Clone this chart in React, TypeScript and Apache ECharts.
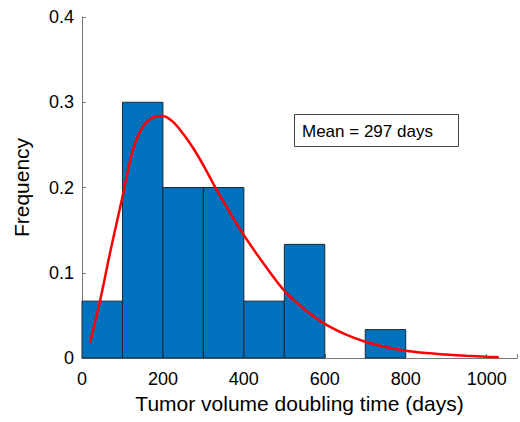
import React, { useEffect, useRef } from "react";
import * as echarts from "echarts";

// Histogram bins (days) and relative frequency
const binStarts = [0, 100, 200, 300, 400, 500, 600, 700];
const binEnds = [100, 200, 300, 400, 500, 600, 700, 800];
const frequencies = [0.0667, 0.3, 0.2, 0.2, 0.0667, 0.1333, 0, 0.0333];

// Fitted density curve
const curveX = [20, 45, 70, 100, 125, 150, 175, 200, 225, 250, 275, 300, 325, 350, 375, 400, 450, 500, 550, 600, 650, 700, 750, 800, 850, 900, 950, 1000, 1030];
const curveY = [0.018, 0.068, 0.125, 0.189, 0.243, 0.271, 0.282, 0.284, 0.277, 0.263, 0.246, 0.226, 0.204, 0.183, 0.163, 0.144, 0.110, 0.079, 0.057, 0.040, 0.028, 0.019, 0.013, 0.0085, 0.0058, 0.004, 0.0025, 0.0015, 0.001];

const xTicks = [0, 200, 400, 600, 800, 1000];
const yTicks = [0, 0.1, 0.2, 0.3, 0.4];
const meanLabel = "Mean = 297 days";

const FONT = '"Liberation Sans", Arial, Helvetica, sans-serif';

export default function App() {
  const ref = useRef<HTMLDivElement>(null);
  useEffect(() => {
    if (!ref.current) return;
    const chart = echarts.init(ref.current, undefined, { renderer: "svg" });
    const barData = binStarts.map((s, i) => [s, binEnds[i], frequencies[i]]);
    const lineData = curveX.map((x, i) => [x, curveY[i]]);
    chart.setOption({
      animation: false,
      backgroundColor: "#ffffff",
      grid: { left: 82, right: 2, top: 17, bottom: 64, containLabel: false },
      xAxis: {
        type: "value",
        min: 0,
        max: 1075,
        interval: 200,
        name: "Tumor volume doubling time (days)",
        nameLocation: "middle",
        nameGap: 35,
        nameTextStyle: { fontSize: 21, fontFamily: FONT, color: "#000" },
        axisLine: { show: true, lineStyle: { color: "#777", width: 1 } },
        axisTick: { show: true, inside: true, length: 4, lineStyle: { color: "#777" } },
        axisLabel: {
          fontSize: 18,
          fontFamily: FONT,
          color: "#000",
          margin: 12,
          formatter: (v: number) => (xTicks.includes(v) ? String(v) : ""),
        },
        splitLine: { show: false },
      },
      yAxis: {
        type: "value",
        min: 0,
        max: 0.4,
        interval: 0.1,
        name: "Frequency",
        nameLocation: "middle",
        nameGap: 50,
        nameTextStyle: { fontSize: 21, fontFamily: FONT, color: "#000" },
        axisLine: { show: true, lineStyle: { color: "#777", width: 1 } },
        axisTick: { show: true, inside: true, length: 4, lineStyle: { color: "#777" } },
        axisLabel: {
          fontSize: 18,
          fontFamily: FONT,
          color: "#000",
          margin: 8,
          formatter: (v: number) => {
            const t = yTicks.find((y) => Math.abs(y - v) < 1e-9);
            return t === undefined ? "" : t === 0 ? "0" : t.toFixed(1);
          },
        },
        splitLine: { show: false },
      },
      series: [
        {
          type: "custom",
          data: barData,
          encode: { x: [0, 1], y: 2 },
          renderItem: (params: any, api: any) => {
            const f = api.value(2);
            if (!f) return null;
            const p0 = api.coord([api.value(0), f]);
            const p1 = api.coord([api.value(1), 0]);
            return {
              type: "rect",
              shape: { x: p0[0], y: p0[1], width: p1[0] - p0[0], height: p1[1] - p0[1] },
              style: { fill: "#0072BD", stroke: "#1c2833", lineWidth: 1 },
            };
          },
          z: 2,
        },
        {
          type: "line",
          data: lineData,
          smooth: 0.3,
          showSymbol: false,
          symbol: "none",
          lineStyle: { color: "#ff0000", width: 2.5 },
          z: 3,
        },
      ],
      graphic: [
        {
          type: "rect",
          shape: { x: 294.5, y: 114.5, width: 164, height: 32 },
          style: { fill: "#ffffff", stroke: "#444", lineWidth: 1 },
          z: 10,
        },
        {
          type: "text",
          x: 302,
          y: 131,
          style: {
            text: meanLabel,
            fontSize: 17,
            fontFamily: FONT,
            fill: "#000",
            verticalAlign: "middle",
          },
          z: 11,
        },
      ],
    });
    return () => chart.dispose();
  }, []);
  return (
    <div
      ref={ref}
      style={{ position: "fixed", left: 0, top: 0, width: 520, height: 422 }}
    />
  );
}
